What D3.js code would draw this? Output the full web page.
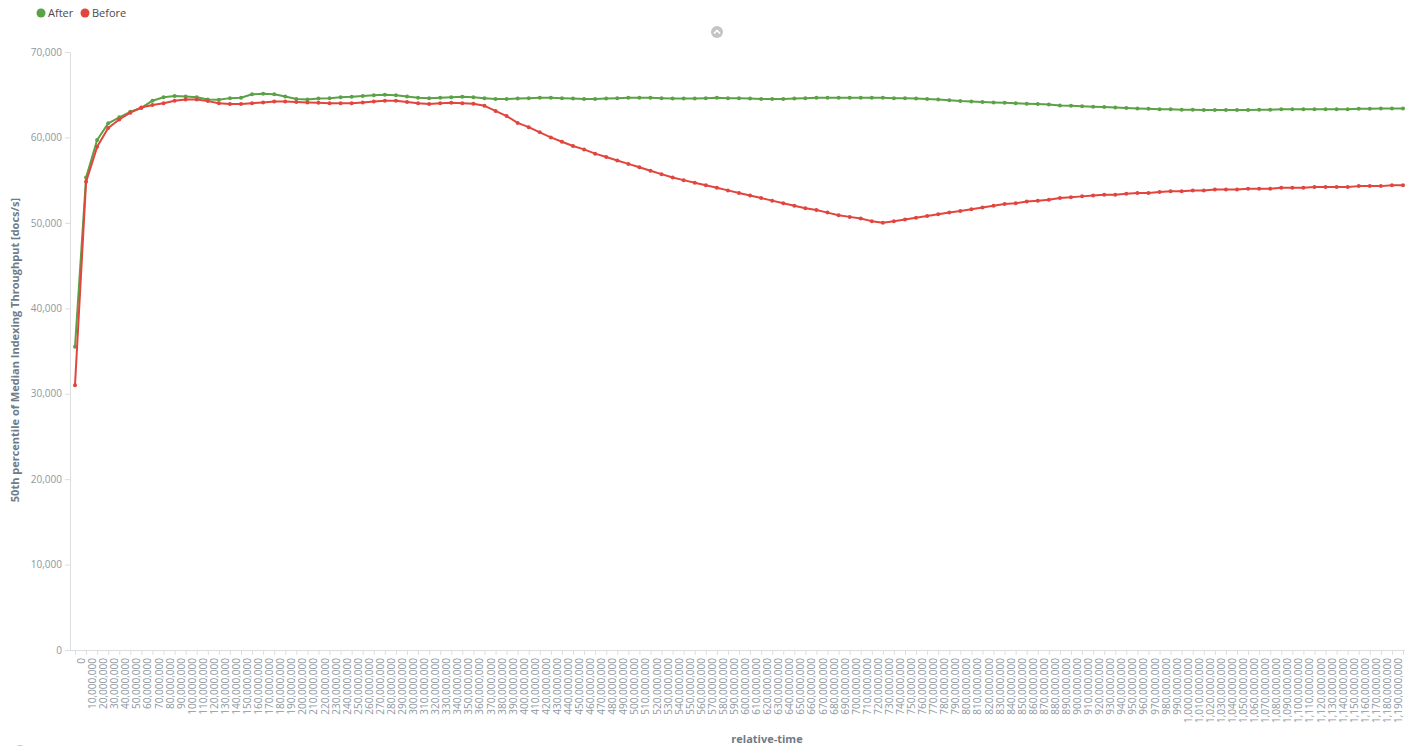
<!DOCTYPE html>
<html>
<head>
<meta charset="utf-8">
<script src="https://cdn.jsdelivr.net/npm/d3@7"></script>
<style>
  html, body { margin: 0; padding: 0; background: #fff; }
  svg { display: block; font-family: "Open Sans", sans-serif; }
</style>
</head>
<body>
<svg id="chart" width="1405" height="746"></svg>
<script>
// relative-time buckets (the leading bucket carries no label)
const tickLabels = ["", "0", "10,000,000", "20,000,000", "30,000,000", "40,000,000", "50,000,000", "60,000,000", "70,000,000", "80,000,000", "90,000,000",
  "100,000,000", "110,000,000", "120,000,000", "130,000,000", "140,000,000", "150,000,000", "160,000,000", "170,000,000", "180,000,000", "190,000,000",
  "200,000,000", "210,000,000", "220,000,000", "230,000,000", "240,000,000", "250,000,000", "260,000,000", "270,000,000", "280,000,000", "290,000,000",
  "300,000,000", "310,000,000", "320,000,000", "330,000,000", "340,000,000", "350,000,000", "360,000,000", "370,000,000", "380,000,000", "390,000,000",
  "400,000,000", "410,000,000", "420,000,000", "430,000,000", "440,000,000", "450,000,000", "460,000,000", "470,000,000", "480,000,000", "490,000,000",
  "500,000,000", "510,000,000", "520,000,000", "530,000,000", "540,000,000", "550,000,000", "560,000,000", "570,000,000", "580,000,000", "590,000,000",
  "600,000,000", "610,000,000", "620,000,000", "630,000,000", "640,000,000", "650,000,000", "660,000,000", "670,000,000", "680,000,000", "690,000,000",
  "700,000,000", "710,000,000", "720,000,000", "730,000,000", "740,000,000", "750,000,000", "760,000,000", "770,000,000", "780,000,000", "790,000,000",
  "800,000,000", "810,000,000", "820,000,000", "830,000,000", "840,000,000", "850,000,000", "860,000,000", "870,000,000", "880,000,000", "890,000,000",
  "900,000,000", "910,000,000", "920,000,000", "930,000,000", "940,000,000", "950,000,000", "960,000,000", "970,000,000", "980,000,000", "990,000,000",
  "1,000,000,000", "1,010,000,000", "1,020,000,000", "1,030,000,000", "1,040,000,000", "1,050,000,000", "1,060,000,000", "1,070,000,000", "1,080,000,000", "1,090,000,000",
  "1,100,000,000", "1,110,000,000", "1,120,000,000", "1,130,000,000", "1,140,000,000", "1,150,000,000", "1,160,000,000", "1,170,000,000", "1,180,000,000", "1,190,000,000"];

// 50th percentile of median indexing throughput [docs/s]
const afterValues = [35500, 55300, 59700, 61650, 62350, 63000, 63450, 64300, 64700, 64850,
  64800, 64700, 64450, 64400, 64600, 64650, 65050, 65100, 65050, 64800,
  64500, 64450, 64550, 64600, 64700, 64750, 64850, 64950, 65000, 64950,
  64800, 64650, 64600, 64650, 64700, 64750, 64700, 64600, 64500, 64500,
  64550, 64600, 64650, 64650, 64600, 64550, 64500, 64500, 64550, 64600,
  64650, 64650, 64650, 64600, 64550, 64550, 64550, 64600, 64650, 64600,
  64600, 64550, 64500, 64500, 64500, 64550, 64600, 64650, 64650, 64650,
  64650, 64650, 64650, 64650, 64600, 64600, 64550, 64500, 64450, 64350,
  64250, 64200, 64150, 64100, 64050, 64000, 63950, 63900, 63850, 63750,
  63700, 63650, 63600, 63550, 63500, 63450, 63400, 63350, 63300, 63300,
  63250, 63250, 63200, 63200, 63200, 63200, 63200, 63250, 63250, 63300,
  63300, 63300, 63300, 63300, 63300, 63300, 63350, 63350, 63400, 63400, 63400];

const beforeValues = [31000, 54800, 58900, 61100, 62100, 62900, 63500, 63800, 64000, 64300,
  64450, 64450, 64250, 64000, 63900, 63900, 64000, 64100, 64200, 64200,
  64150, 64100, 64050, 64000, 64000, 64000, 64100, 64200, 64300, 64300,
  64150, 64000, 63900, 64000, 64050, 64000, 63950, 63700, 63100, 62500,
  61700, 61200, 60600, 60000, 59500, 59000, 58600, 58100, 57700, 57300,
  56900, 56500, 56100, 55700, 55300, 55000, 54700, 54400, 54100, 53800,
  53500, 53200, 52900, 52600, 52300, 52000, 51700, 51500, 51200, 50900,
  50700, 50500, 50200, 50000, 50200, 50400, 50600, 50800, 51000, 51200,
  51400, 51600, 51800, 52000, 52200, 52300, 52500, 52600, 52700, 52900,
  53000, 53100, 53200, 53300, 53300, 53400, 53500, 53500, 53600, 53700,
  53700, 53800, 53800, 53900, 53900, 53900, 54000, 54000, 54000, 54100,
  54100, 54100, 54200, 54200, 54200, 54200, 54300, 54300, 54300, 54400, 54400];

const seriesNames = ["After", "Before"];
const seriesColors = ["#5ba146", "#e2453d"];
const yTicks = [0, 10000, 20000, 30000, 40000, 50000, 60000, 70000];

const svg = d3.select("#chart");
const axisColor = "#dcdfe2";
const tickTextColor = "#8e979f";
const titleColor = "#6f7b86";
const fmt = d3.format(",");

const x = d3.scalePoint().domain(d3.range(tickLabels.length)).range([75, 1403]);
const y = d3.scaleLinear().domain([0, 70000]).range([650, 52]);

// y axis
const yAxis = svg.append("g").attr("transform", "translate(70,0)")
  .call(d3.axisLeft(y).tickValues(yTicks).tickFormat(fmt).tickSize(5).tickPadding(3));
yAxis.select(".domain").attr("stroke", axisColor);
yAxis.selectAll(".tick line").attr("stroke", axisColor);
yAxis.selectAll(".tick text").attr("fill", tickTextColor).style("font-size", "10px")
  .style("font-family", "'Open Sans', sans-serif");

// x axis
const xAxis = svg.append("g").attr("transform", "translate(0,650)")
  .call(d3.axisBottom(x).tickFormat(i => tickLabels[i]).tickSize(5).tickSizeOuter(0));
xAxis.select(".domain").attr("stroke", axisColor).attr("d", "M70,0.5H1405");
xAxis.selectAll(".tick line").attr("stroke", axisColor);
xAxis.selectAll(".tick text")
  .attr("fill", tickTextColor)
  .style("font-size", "10px")
  .style("font-family", "'Open Sans', sans-serif")
  .attr("text-anchor", "end")
  .attr("transform", "rotate(-90)")
  .attr("x", -8)
  .attr("y", 0)
  .attr("dy", "-0.15em");

// axis titles
svg.append("text")
  .attr("transform", "translate(19,350) rotate(-90)")
  .attr("text-anchor", "middle")
  .attr("fill", titleColor)
  .style("font-size", "11px").style("font-weight", "bold")
  .text("50th percentile of Median Indexing Throughput [docs/s]");

svg.append("text")
  .attr("x", 767).attr("y", 743)
  .attr("text-anchor", "middle")
  .attr("fill", titleColor)
  .style("font-size", "11px").style("font-weight", "bold")
  .text("relative-time");

// lines and points
const line = d3.line().x((d, i) => x(i)).y(d => y(d));
[afterValues, beforeValues].forEach((vals, s) => {
  const g = svg.append("g");
  g.append("path").datum(vals)
    .attr("fill", "none")
    .attr("stroke", seriesColors[s])
    .attr("stroke-width", 2)
    .attr("stroke-linejoin", "round")
    .attr("d", line);
  g.selectAll("circle").data(vals).join("circle")
    .attr("cx", (d, i) => x(i))
    .attr("cy", d => y(d))
    .attr("r", 2)
    .attr("fill", seriesColors[s]);
});

// legend
const legend = svg.append("g");
const legendX = [41, 85];
seriesNames.forEach((name, i) => {
  legend.append("circle").attr("cx", legendX[i]).attr("cy", 13).attr("r", 4.5).attr("fill", seriesColors[i]);
  legend.append("text").attr("x", legendX[i] + 7).attr("y", 17)
    .attr("fill", "#4a4a4a").style("font-size", "11px").text(name);
});

// collapse toggles
function toggle(cx, cy, up) {
  const g = svg.append("g").attr("transform", `translate(${cx},${cy})`);
  g.append("circle").attr("r", 6).attr("fill", "#c4c4c4");
  g.append("path")
    .attr("d", up ? "M-3,1.5L0,-1.5L3,1.5" : "M-3,-1.5L0,1.5L3,-1.5")
    .attr("fill", "none").attr("stroke", "#fff").attr("stroke-width", 1.6);
}
toggle(717, 32, true);
toggle(20, 751, false);
</script>
</body>
</html>
